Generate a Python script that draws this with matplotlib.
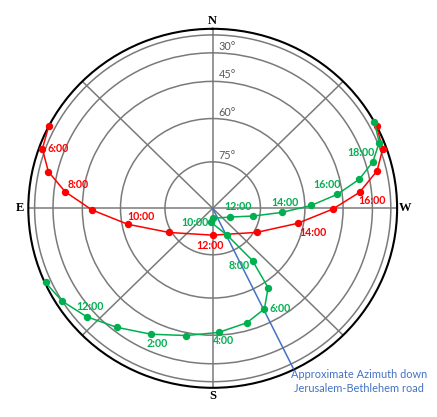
import numpy as np
import matplotlib.pyplot as plt

# sun path (red) : azimuth / altitude in degrees, one point per hour 5:00 - 19:00
red_az = [62.8, 70.3, 77.1, 83.4, 90.8, 100.9, 119.6, 180.0,
          240.7, 259.7, 269.6, 276.4, 283.2, 289.7, 297.3]
red_alt = [0.0, 11.1, 23.9, 36.3, 49.1, 62.0, 74.2, 81.4,
           74.1, 62.1, 49.4, 36.7, 23.7, 11.7, 0.0]
red_labels = ['', '6:00', '', '8:00', '', '10:00', '', '12:00',
              '', '14:00', '', '16:00', '', '', '']

# green path, one point per hour
green_az = [114.5, 122.3, 131.5, 141.9, 154.5, 168.6, 182.7, 196.2, 206.6,
            214.2, 216.5, 207.8, 173.3, 183.4, 242.2, 259.0, 266.5, 271.7,
            276.6, 281.5, 286.6, 292.1, 298.7]
green_alt = [4.8, 14.8, 24.2, 32.6, 39.0, 43.7, 46.2, 48.4, 51.2, 57.7, 68.7,
             80.2, 85.5, 86.8, 84.0, 77.0, 68.0, 57.7, 47.1, 35.8, 25.0, 13.0, 0.0]
green_labels = ['', '', '12:00', '', '2:00', '', '4:00', '', '6:00', '', '8:00',
                '', '10:00', '', '12:00', '', '14:00', '', '16:00', '', '18:00', '', '']

road_az = 206.1
ring_alts = [75, 60, 45, 30, 15]
ring_labels = ['75°', '60°', '45°', '30°', '']
cardinals = ['N', 'E', 'S', 'W']
cardinal_az = [0, 90, 180, 270]

# label offsets in pixels (dx, dy)
red_off = {1: (16, 0), 3: (13, 7), 5: (13, 7.5), 7: (-3, -10.5), 9: (15, -9), 11: (12, -8)}
green_off = {2: (3, 10.5), 4: (6, -9), 6: (5, -8.5), 8: (15.5, 0), 10: (-13, -4.5),
             12: (-16, 0), 14: (8, 10.5), 16: (3, 10), 18: (-10, 10), 20: (-12, 9.5)}

RED = '#ff0000'
GREEN = '#00b050'
BLUE = '#4472c4'
GRID = '#7a7a7a'
lab_font = 'Lato'


def to_polar(az, alt):
    return np.radians(az), np.cos(np.radians(alt))


fig = plt.figure(figsize=(4.37, 4.17), dpi=100)
ax = fig.add_axes([0.0648, 0.0700, 0.8439, 0.8609], projection='polar')
ax.set_aspect('auto')
ax.set_theta_zero_location('N')
ax.set_theta_direction(1)
ax.set_ylim(0, 1)
ax.set_rgrids(np.cos(np.radians(ring_alts)), labels=[''] * len(ring_alts))
ax.set_thetagrids(range(0, 360, 45), labels=[''] * 8)
ax.grid(True, color=GRID, lw=1.1)
ax.spines['polar'].set_color('black')
ax.spines['polar'].set_linewidth(1.5)

# road azimuth
t, r = to_polar([road_az, road_az], [90, 0])
ax.plot(t, r, color=BLUE, lw=1.1, zorder=3)
ax.annotate('Approximate Azimuth down\nJerusalem-Bethlehem road', (t[1], r[1]),
            xytext=(65, -12), textcoords='offset pixels', ha='center', va='center',
            color=BLUE, fontsize=7.9, family=lab_font, linespacing=1.25,
            annotation_clip=False)

t, r = to_polar(red_az, red_alt)
ax.plot(t, r, color=RED, lw=1.1, marker='o', ms=4.3, zorder=4, clip_on=False)
for i, lab in enumerate(red_labels):
    if lab:
        ax.annotate(lab, (t[i], r[i]), xytext=red_off[i], textcoords='offset pixels',
                    ha='center', va='center', color=RED, fontsize=7.7,
                    fontweight='bold', family=lab_font)

t, r = to_polar(green_az, green_alt)
ax.plot(t, r, color=GREEN, lw=1.1, marker='o', ms=4.3, zorder=4, clip_on=False)
for i, lab in enumerate(green_labels):
    if lab:
        ax.annotate(lab, (t[i], r[i]), xytext=green_off[i], textcoords='offset pixels',
                    ha='center', va='center', color=GREEN, fontsize=7.7,
                    fontweight='bold', family=lab_font)

for alt, lab in zip(ring_alts, ring_labels):
    if lab:
        ax.annotate(lab, (0, np.cos(np.radians(alt))), xytext=(6, 6.5),
                    textcoords='offset pixels', ha='left', va='center',
                    color='#595959', fontsize=7.8, family=lab_font)

for az, lab in zip(cardinal_az, cardinals):
    ax.text(np.radians(az), 1.045, lab, ha='center', va='center', fontsize=9,
            fontweight='bold', family='Liberation Serif', clip_on=False)

fig.savefig('out.png', dpi=100)
